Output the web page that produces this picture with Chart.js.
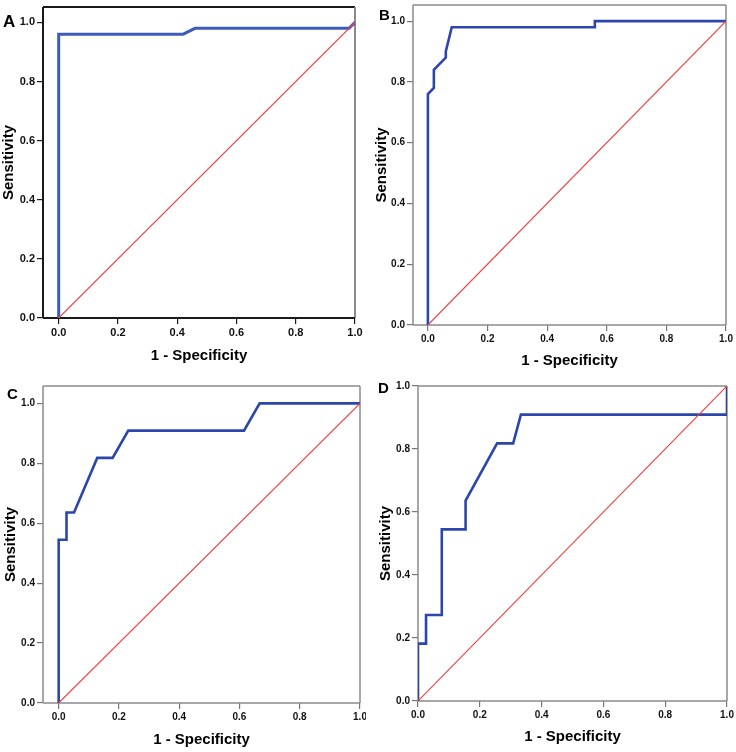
<!DOCTYPE html>
<html>
<head>
<meta charset="utf-8">
<script src="https://cdn.jsdelivr.net/npm/chart.js@4"></script>
<style>
body { margin: 0; background: #fff; }
#wrap { position: relative; width: 736px; height: 752px; background: #fff; }
canvas { position: absolute; }
</style>
</head>
<body>
<div id="wrap">
<canvas id="chartA" width="366" height="370" style="left:0px;top:0px"></canvas>
<canvas id="chartB" width="370" height="370" style="left:366px;top:0px"></canvas>
<canvas id="chartC" width="366" height="382" style="left:0px;top:370px"></canvas>
<canvas id="chartD" width="370" height="382" style="left:366px;top:370px"></canvas>
</div>
<script>
// ROC curves: x = 1 - specificity, y = sensitivity
const tickValues = [0, 0.2, 0.4, 0.6, 0.8, 1.0];
const refLine = [0, 1];

const specA = [0, 0, 0.42, 0.46, 0.98, 1.0];
const sensA = [0, 0.96, 0.96, 0.98, 0.98, 1.0];

const specB = [0, 0, 0.02, 0.02, 0.06, 0.06, 0.08, 0.56, 0.56, 1.0];
const sensB = [0, 0.76, 0.78, 0.84, 0.88, 0.90, 0.98, 0.98, 1.0, 1.0];

const specC = [0, 0, 0.026, 0.026, 0.051, 0.128, 0.179, 0.231, 0.615, 0.667, 1.0];
const sensC = [0, 0.545, 0.545, 0.636, 0.636, 0.818, 0.818, 0.909, 0.909, 1.0, 1.0];

const specD = [0, 0, 0.026, 0.026, 0.077, 0.077, 0.154, 0.154, 0.256, 0.308, 0.333, 1.0, 1.0];
const sensD = [0, 0.182, 0.182, 0.273, 0.273, 0.545, 0.545, 0.636, 0.818, 0.818, 0.909, 0.909, 1.0];

const FONT = "'Liberation Sans', Arial, sans-serif";

const panels = [
    {
        id: "chartA", letter: "A", spec: specA, sens: sensA,
        xMin: -0.053, yMax: 1.052,
        pad: { left: 0, top: 7, right: 11, bottom: 0 },
        yWidth: 43, xHeight: 52, yTitlePad: 0, xTitlePad: 5,
        tickSize: 11, curveColor: "#3d5cb8", curveWidth: 3,
        frame: { left: "#1a1a1a", top: "#1a1a1a", right: "#8a8a8a", bottom: "#1a1a1a" },
        frameWidth: 2, tickColor: "#1a1a1a",
        letterSize: 17, letterX: 3, letterY: 27,
    },
    {
        id: "chartB", letter: "B", spec: specB, sens: sensB,
        xMin: -0.05, yMax: 1.053,
        pad: { left: 0, top: 5, right: 10, bottom: 0 },
        yWidth: 47, xHeight: 45, yTitlePad: 6.5, xTitlePad: 0,
        tickSize: 10, curveColor: "#2c46ab", curveWidth: 2.6,
        frame: { left: "#8a8a8a", top: "#8a8a8a", right: "#8a8a8a", bottom: "#8a8a8a" },
        frameWidth: 1.5, tickColor: "#777",
        letterSize: 15, letterX: 13, letterY: 20,
    },
    {
        id: "chartC", letter: "C", spec: specC, sens: sensC,
        xMin: -0.052, yMax: 1.058,
        pad: { left: 0, top: 16, right: 6, bottom: 0 },
        yWidth: 43, xHeight: 49, yTitlePad: 2, xTitlePad: 3,
        tickSize: 10, curveColor: "#2c46ab", curveWidth: 2.6,
        frame: { left: "#8a8a8a", top: "#8a8a8a", right: "#8a8a8a", bottom: "#8a8a8a" },
        frameWidth: 1.5, tickColor: "#777",
        letterSize: 15, letterX: 7, letterY: 29,
    },
    {
        id: "chartD", letter: "D", spec: specD, sens: sensD,
        xMin: 0, yMax: 1.0,
        pad: { left: 0, top: 16, right: 9, bottom: 0 },
        yWidth: 52, xHeight: 51, yTitlePad: 11, xTitlePad: 6,
        tickSize: 10, curveColor: "#2c46ab", curveWidth: 2.6,
        frame: { left: "#8a8a8a", top: "#8a8a8a", right: "#8a8a8a", bottom: "#8a8a8a" },
        frameWidth: 1.5, tickColor: "#777",
        letterSize: 15, letterX: 12, letterY: 23,
    },
];

// box round the plot area, drawn under the curves
const framePlugin = {
    id: "frame",
    beforeDatasetsDraw(chart, args, opts) {
        const { ctx, chartArea: a } = chart;
        ctx.save();
        ctx.lineWidth = opts.width;
        const side = (color, x1, y1, x2, y2) => {
            ctx.strokeStyle = color;
            ctx.beginPath();
            ctx.moveTo(x1, y1);
            ctx.lineTo(x2, y2);
            ctx.stroke();
        };
        side(opts.colors.top, a.left, a.top, a.right, a.top);
        side(opts.colors.right, a.right, a.top, a.right, a.bottom);
        side(opts.colors.bottom, a.left, a.bottom, a.right, a.bottom);
        side(opts.colors.left, a.left, a.top, a.left, a.bottom);
        ctx.restore();
    },
};

// panel letter in the top left corner
const letterPlugin = {
    id: "panelLetter",
    afterDraw(chart, args, opts) {
        const ctx = chart.ctx;
        ctx.save();
        ctx.fillStyle = "#000";
        ctx.font = `bold ${opts.size}px ${FONT}`;
        ctx.textAlign = "left";
        ctx.textBaseline = "alphabetic";
        ctx.fillText(opts.text, opts.x, opts.y);
        ctx.restore();
    },
};

function setTicks(scale) {
    scale.ticks = tickValues.map((v) => ({ value: v }));
}

function makeChart(p) {
    const curve = p.spec.map((x, i) => ({ x: x, y: p.sens[i] }));
    const diag = refLine.map((v) => ({ x: v, y: v }));
    const ctx = document.getElementById(p.id).getContext("2d");

    return new Chart(ctx, {
        type: "scatter",
        data: {
            datasets: [
                {
                    data: diag,
                    showLine: true,
                    borderColor: "#f04444",
                    borderWidth: 1.2,
                    pointRadius: 0,
                    tension: 0,
                },
                {
                    data: curve,
                    showLine: true,
                    borderColor: p.curveColor,
                    borderWidth: p.curveWidth,
                    borderJoinStyle: "miter",
                    pointRadius: 0,
                    tension: 0,
                },
            ],
        },
        options: {
            responsive: false,
            animation: false,
            devicePixelRatio: 1,
            layout: { padding: p.pad },
            plugins: {
                legend: { display: false },
                tooltip: { enabled: false },
                frame: { colors: p.frame, width: p.frameWidth },
                panelLetter: { text: p.letter, size: p.letterSize, x: p.letterX, y: p.letterY },
            },
            scales: {
                x: {
                    type: "linear",
                    min: p.xMin,
                    max: 1.0,
                    afterBuildTicks: setTicks,
                    afterFit(scale) {
                        scale.height = p.xHeight;
                        scale.paddingLeft = 0;
                        scale.paddingRight = 0;
                    },
                    border: { display: false },
                    grid: {
                        drawOnChartArea: false,
                        drawTicks: true,
                        tickLength: 6,
                        color: p.tickColor,
                        lineWidth: 1.2,
                    },
                    ticks: {
                        padding: 2,
                        color: "#111",
                        font: { family: FONT, size: p.tickSize, weight: "bold" },
                        callback: (v) => Number(v).toFixed(1),
                    },
                    title: {
                        display: true,
                        text: "1 - Specificity",
                        color: "#000",
                        padding: { top: 0, bottom: p.xTitlePad },
                        font: { family: FONT, size: 15, weight: "bold" },
                    },
                },
                y: {
                    type: "linear",
                    min: 0,
                    max: p.yMax,
                    afterBuildTicks: setTicks,
                    afterFit(scale) {
                        scale.width = p.yWidth;
                        scale.paddingTop = 0;
                        scale.paddingBottom = 0;
                    },
                    border: { display: false },
                    grid: {
                        drawOnChartArea: false,
                        drawTicks: true,
                        tickLength: 6,
                        color: p.tickColor,
                        lineWidth: 1.2,
                    },
                    ticks: {
                        padding: 2,
                        color: "#111",
                        font: { family: FONT, size: p.tickSize, weight: "bold" },
                        callback: (v) => Number(v).toFixed(1),
                    },
                    title: {
                        display: true,
                        text: "Sensitivity",
                        color: "#000",
                        padding: { top: p.yTitlePad, bottom: 0 },
                        font: { family: FONT, size: 15, weight: "bold" },
                    },
                },
            },
        },
        plugins: [framePlugin, letterPlugin],
    });
}

panels.forEach(makeChart);
</script>
</body>
</html>
